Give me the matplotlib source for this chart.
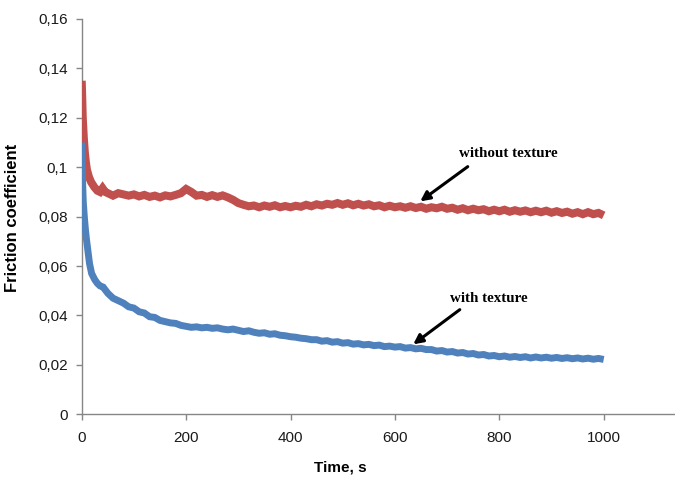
import matplotlib
matplotlib.use("Agg")
import matplotlib.pyplot as plt

# ---- data ----
t_red_early = [0, 1, 2, 4, 6, 8, 10, 14, 18, 24, 30, 35, 40, 45, 50]
v_red_early = [0.135, 0.128, 0.120, 0.112, 0.106, 0.102, 0.099, 0.096, 0.094, 0.092,
               0.0905, 0.0900, 0.0915, 0.0900, 0.0895]
t_main = list(range(60, 1001, 10))
v_red_main = [0.0885, 0.0895, 0.0890, 0.0885, 0.0890, 0.0882, 0.0888, 0.0880, 0.0885, 0.0878,
              0.0886, 0.0882, 0.0888, 0.0895, 0.0912, 0.0900, 0.0885, 0.0888, 0.0880, 0.0887,
              0.0880, 0.0886, 0.0878, 0.0868, 0.0855, 0.0848, 0.0842, 0.0845, 0.0838, 0.0845,
              0.0840, 0.0846, 0.0838, 0.0843, 0.0838, 0.0844, 0.0840, 0.0848, 0.0842, 0.0850,
              0.0845, 0.0852, 0.0848, 0.0855, 0.0848, 0.0854, 0.0846, 0.0852, 0.0845, 0.0850,
              0.0842, 0.0846, 0.0838, 0.0844, 0.0838, 0.0842, 0.0836, 0.0842, 0.0835, 0.0840,
              0.0832, 0.0838, 0.0834, 0.0840, 0.0832, 0.0836, 0.0828, 0.0834, 0.0826, 0.0832,
              0.0826, 0.0830, 0.0822, 0.0828, 0.0822, 0.0828, 0.0820, 0.0826, 0.0820, 0.0825,
              0.0818, 0.0824, 0.0818, 0.0824, 0.0816, 0.0822, 0.0815, 0.0820, 0.0812, 0.0818,
              0.0810, 0.0818, 0.0810, 0.0815, 0.0805]

t_blue_early = [0, 1, 2, 3, 5, 7, 9, 12, 15, 19, 25, 30, 35, 41, 50]
v_blue_early = [0.110, 0.100, 0.092, 0.086, 0.080, 0.075, 0.071, 0.066, 0.061, 0.057,
                0.0545, 0.0530, 0.0520, 0.0515, 0.0490]
v_blue_main = [0.0470, 0.0460, 0.0450, 0.0435, 0.0430, 0.0415, 0.0410, 0.0395, 0.0392, 0.0380,
               0.0375, 0.0370, 0.0368, 0.0360, 0.0356, 0.0352, 0.0354, 0.0350, 0.0352, 0.0348,
               0.0350, 0.0345, 0.0342, 0.0345, 0.0340, 0.0335, 0.0338, 0.0332, 0.0328, 0.0330,
               0.0324, 0.0326, 0.0320, 0.0318, 0.0314, 0.0312, 0.0308, 0.0306, 0.0302, 0.0302,
               0.0296, 0.0298, 0.0292, 0.0294, 0.0288, 0.0290, 0.0284, 0.0286, 0.0281, 0.0283,
               0.0278, 0.0280, 0.0274, 0.0276, 0.0272, 0.0274, 0.0268, 0.0270, 0.0265, 0.0267,
               0.0262, 0.0262, 0.0256, 0.0258, 0.0252, 0.0254, 0.0248, 0.0250, 0.0244, 0.0246,
               0.0240, 0.0242, 0.0236, 0.0238, 0.0233, 0.0236, 0.0231, 0.0234, 0.0230, 0.0233,
               0.0228, 0.0232, 0.0228, 0.0231, 0.0227, 0.0230, 0.0226, 0.0229, 0.0225, 0.0228,
               0.0224, 0.0227, 0.0223, 0.0226, 0.0222]

t_red = t_red_early + t_main
v_red = v_red_early + v_red_main
t_blue = t_blue_early + t_main
v_blue = v_blue_early + v_blue_main

y_ticks = [0, 0.02, 0.04, 0.06, 0.08, 0.1, 0.12, 0.14, 0.16]
y_labels = ["0", "0,02", "0,04", "0,06", "0,08", "0,1", "0,12", "0,14", "0,16"]
x_ticks = [0, 200, 400, 600, 800, 1000]
x_labels = ["0", "200", "400", "600", "800", "1000"]

# ---- figure ----
W, H = 675, 480
fig = plt.figure(figsize=(W / 100, H / 100), dpi=100)
x0, x1 = 81.7, 675
y0, y1 = 414.3, 19
ax = fig.add_axes([x0 / W, 1 - y0 / H, (x1 - x0) / W, (y0 - y1) / H])

red = "#C0504D"
blue = "#4F81BD"
ax.plot(t_red, v_red, color=red, lw=5.8, solid_joinstyle="miter",
        solid_capstyle="butt", zorder=3)
ax.plot(t_blue, v_blue, color=blue, lw=5.0, solid_joinstyle="miter",
        solid_capstyle="butt", zorder=3)

ax.set_xlim(0, (x1 - x0) / 104.4 * 200)
ax.set_ylim(0, 0.16)
ax.set_xticks(x_ticks)
ax.set_xticklabels(x_labels)
ax.set_yticks(y_ticks)
ax.set_yticklabels(y_labels)

grey = "#868686"
for s in ["top", "right"]:
    ax.spines[s].set_visible(False)
for s in ["left", "bottom"]:
    ax.spines[s].set_color(grey)
    ax.spines[s].set_linewidth(1.0)
ax.tick_params(axis="both", direction="out", length=4, width=1, color=grey,
               labelsize=11, labelcolor="#1a1a1a")
ax.tick_params(axis="x", pad=8)
ax.tick_params(axis="y", pad=6)
for lab in ax.get_xticklabels() + ax.get_yticklabels():
    lab.set_fontfamily("Liberation Sans")

fig.text(13 / W, 1 - 218 / H, "Friction coefficient", rotation=90, ha="center", va="center",
         fontsize=12, fontweight="bold", family="Liberation Sans")
fig.text(340 / W, 1 - 467 / H, "Time, s", ha="center", va="center",
         fontsize=11, fontweight="bold", family="Liberation Sans")

# annotations
def px2data(px, py):
    disp = (px, H - py)
    return ax.transData.inverted().transform(disp)

fig.canvas.draw()
ax.annotate("", xy=px2data(418, 203), xytext=px2data(470, 165),
            arrowprops=dict(arrowstyle="-|>", color="black", lw=2.2, mutation_scale=14))
ax.annotate("", xy=px2data(411, 346), xytext=px2data(462, 308),
            arrowprops=dict(arrowstyle="-|>", color="black", lw=2.2, mutation_scale=14))
tx, ty = px2data(508, 153)
ax.text(tx, ty, "without texture", ha="center", va="center", fontsize=10.8,
        fontweight="bold", family="Liberation Serif")
tx, ty = px2data(489, 299)
ax.text(tx, ty, "with texture", ha="center", va="center", fontsize=10.8,
        fontweight="bold", family="Liberation Serif")

fig.savefig("out.png", dpi=100)
